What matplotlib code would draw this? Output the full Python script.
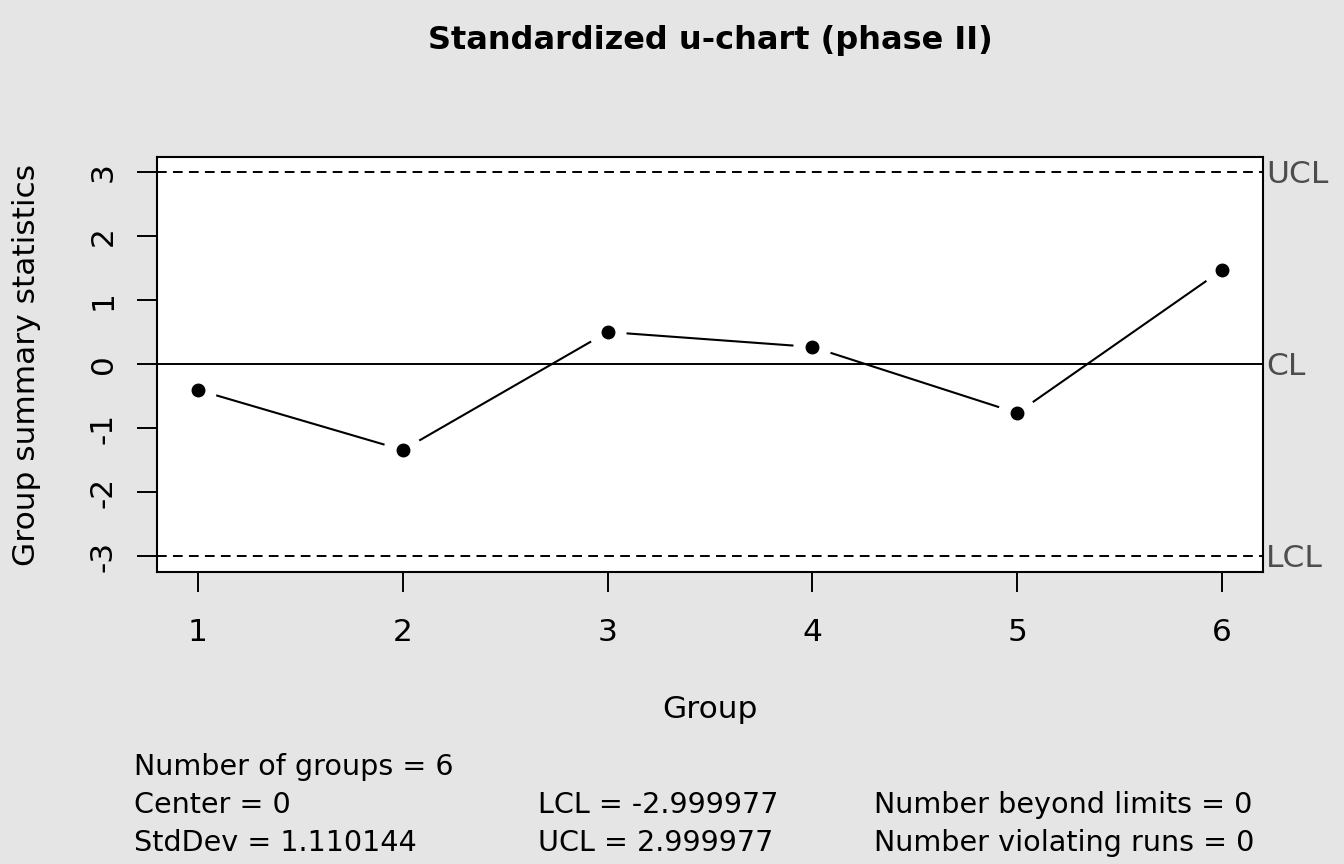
import matplotlib
matplotlib.use("Agg")
import matplotlib.pyplot as plt
import numpy as np

groups = [1, 2, 3, 4, 5, 6]
values = [-0.406, -1.344, 0.50, 0.266, -0.766, 1.469]
center = 0.0
lcl = -2.999977
ucl = 2.999977
title = "Standardized u-chart (phase II)"
stats_rows = [
    ["Number of groups = 6", "", ""],
    ["Center = 0", "LCL = -2.999977", "Number beyond limits = 0"],
    ["StdDev = 1.110144", "UCL = 2.999977", "Number violating runs = 0"],
]

plt.rcParams['font.family'] = ['DejaVu Sans']
plt.rcParams['lines.scale_dashes'] = False

W, H = 1344, 864
fig = plt.figure(figsize=(W / 100, H / 100), dpi=100, facecolor='#e5e5e5')
ax = fig.add_axes([157 / W, 1 - 572 / H, (1263 - 157) / W, (572 - 157) / H])
ax.set_facecolor('white')
ax.set_xlim(0.8, 6.2)
ax.set_ylim(-3.25, 3.234)

for s in ax.spines.values():
    s.set_linewidth(1.5)

# limits
ax.axhline(center, color='black', lw=1.4)
ax.axhline(ucl, color='black', lw=1.4, dashes=(7, 4.5))
ax.axhline(lcl, color='black', lw=1.4, dashes=(7, 4.5))

# connecting segments with gaps near points (type="b")
gap = 19.0
trans = ax.transData
inv = trans.inverted()
pts = trans.transform(np.column_stack([groups, values]))
for i in range(len(pts) - 1):
    p0, p1 = pts[i], pts[i + 1]
    d = p1 - p0
    L = np.hypot(*d)
    if L <= 2 * gap:
        continue
    u = d / L
    a = inv.transform(p0 + u * gap)
    b = inv.transform(p1 - u * gap)
    ax.plot([a[0], b[0]], [a[1], b[1]], color='black', lw=1.5, solid_capstyle='butt')

ax.plot(groups, values, linestyle='none', marker='o', color='black', markersize=9)

ax.set_xticks(groups)
ax.set_xticklabels([str(g) for g in groups])
ax.set_yticks([-3, -2, -1, 0, 1, 2, 3])
ax.set_yticklabels(['-3', '-2', '-1', '0', '1', '2', '3'], rotation=90, va='center')
ax.tick_params(axis='both', length=14.4, width=1.4, labelsize=22.5)
ax.tick_params(axis='x', pad=19)
ax.tick_params(axis='y', pad=14)

ax.set_xlabel('Group', fontsize=22.5, labelpad=34)
ax.set_ylabel('Group summary statistics', fontsize=22.5, labelpad=34)

# limit labels
for yv, lab in [(ucl, 'UCL'), (center, 'CL'), (lcl, 'LCL')]:
    ax.annotate(lab, xy=(1.0, yv), xycoords=ax.get_yaxis_transform(),
                xytext=(3, -3), textcoords='offset pixels', fontsize=22.5,
                color='#4d4d4d', va='center', ha='left')

fig.text(710 / W, 1 - 41 / H, title, fontsize=23, fontweight='bold', ha='center', va='center')

col_x = [134, 538, 874]
row_y = [767, 805, 843]
for r, row in enumerate(stats_rows):
    for c, txt in enumerate(row):
        if txt:
            fig.text(col_x[c] / W, 1 - row_y[r] / H, txt, fontsize=20.6, ha='left', va='center')

fig.savefig('out.png', dpi=100, facecolor=fig.get_facecolor())
